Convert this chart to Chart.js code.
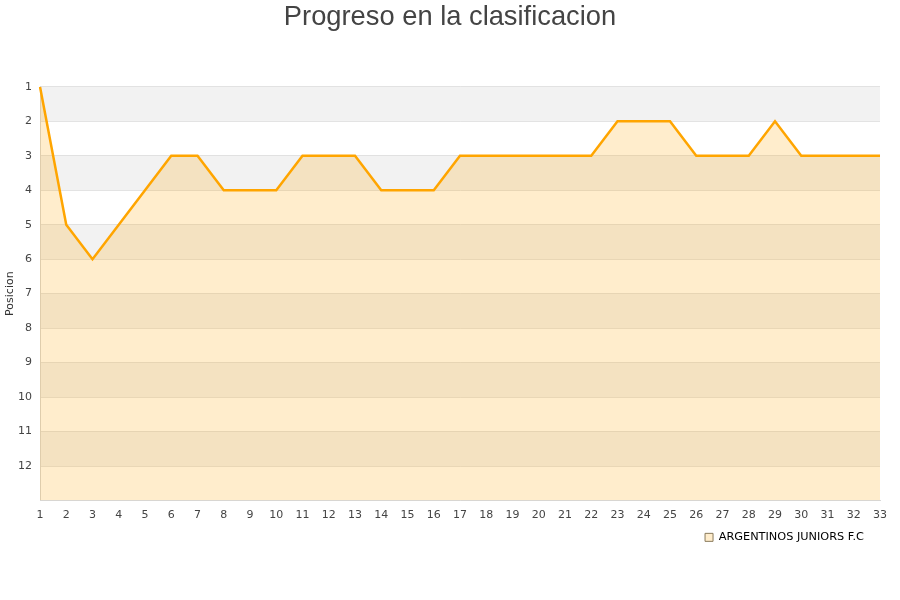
<!DOCTYPE html>
<html>
<head>
<meta charset="utf-8">
<script src="https://cdn.jsdelivr.net/npm/chart.js@4"></script>
<style>
  body { margin: 0; background: #fff; }
  #wrap { width: 900px; height: 600px; }
</style>
</head>
<body>
<div id="wrap"><canvas id="myChart"></canvas></div>
<script>
// data
let jornadas = [];
for (let i = 1; i <= 33; i++) {
  jornadas.push(String(i));
}
let posiciones = [1, 5, 6, 5, 4, 3, 3, 4, 4, 4, 3, 3, 3, 4, 4, 4, 3, 3, 3, 3, 3, 3, 2, 2, 2, 3, 3, 3, 2, 3, 3, 3, 3];
let equipo = 'ARGENTINOS JUNIORS F.C';
let tituloGrafico = 'Progreso en la clasificacion';
let tituloY = 'Posicion';

// alternating background bands
const bandsPlugin = {
  id: 'bands',
  afterLayout(chart) {
    // nudge the legend a bit left, like the original
    chart.legend.left -= 26;
    chart.legend.right -= 26;
  },
  beforeDraw(chart) {
    let ctx = chart.ctx;
    let area = chart.chartArea;
    let y = chart.scales.y;
    ctx.save();
    for (let p = 1; p < 13; p++) {
      ctx.fillStyle = (p % 2 === 1) ? '#f2f2f2' : '#ffffff';
      let top = y.getPixelForValue(p);
      let bottom = y.getPixelForValue(p + 1);
      ctx.fillRect(area.left, top, area.right - area.left, bottom - top);
    }
    ctx.restore();
  }
};

let ctxWindow = document.getElementById('myChart');

new Chart(ctxWindow, {
  type: 'line',
  data: {
    labels: jornadas,
    datasets: [{
      label: equipo,
      data: posiciones,
      borderColor: '#ffa500',
      backgroundColor: 'rgba(255,165,0,0.2)',
      borderWidth: 2.5,
      fill: { value: 13 },
      pointRadius: 0,
      tension: 0
    }]
  },
  options: {
    responsive: true,
    maintainAspectRatio: false,
    animation: false,
    layout: {
      padding: { left: 0, right: 0, top: 0, bottom: 47 }
    },
    plugins: {
      title: {
        display: true,
        text: tituloGrafico,
        color: '#444',
        font: { family: 'Liberation Sans, Arial', size: 27.3, weight: 'normal' },
        padding: { top: 1, bottom: 53 }
      },
      legend: {
        position: 'bottom',
        align: 'end',
        labels: {
          boxWidth: 8,
          boxHeight: 8,
          padding: 10,
          color: '#222',
          font: { family: 'DejaVu Sans', size: 11.3 },
          generateLabels(chart) {
            return [{
              text: equipo,
              fillStyle: 'rgba(255,165,0,0.2)',
              strokeStyle: '#8a7a5a',
              lineWidth: 1,
              datasetIndex: 0
            }];
          }
        }
      },
      tooltip: { enabled: false }
    },
    scales: {
      x: {
        offset: false,
        grid: { display: false },
        border: { color: '#d8d8d8' },
        ticks: {
          color: '#444',
          padding: 0,
          font: { family: 'DejaVu Sans', size: 11 },
          maxRotation: 0,
          autoSkip: false
        },
        afterFit: function (scale) {
          scale.paddingRight = 20;
        }
      },
      y: {
        reverse: true,
        min: 1,
        max: 13,
        grid: { color: 'rgba(200,200,200,0.5)', drawTicks: false },
        border: { color: '#d8d8d8' },
        title: {
          display: true,
          text: tituloY,
          color: '#333',
          font: { family: 'DejaVu Sans', size: 11 },
          padding: { top: 4, bottom: 0 }
        },
        ticks: {
          stepSize: 1,
          color: '#444',
          padding: 8,
          font: { family: 'DejaVu Sans', size: 11 },
          callback: function (value) {
            return value === 13 ? '' : value;
          }
        },
        afterFit: function (scale) {
          scale.width = 40;
        }
      }
    }
  },
  plugins: [bandsPlugin]
});
</script>
</body>
</html>
